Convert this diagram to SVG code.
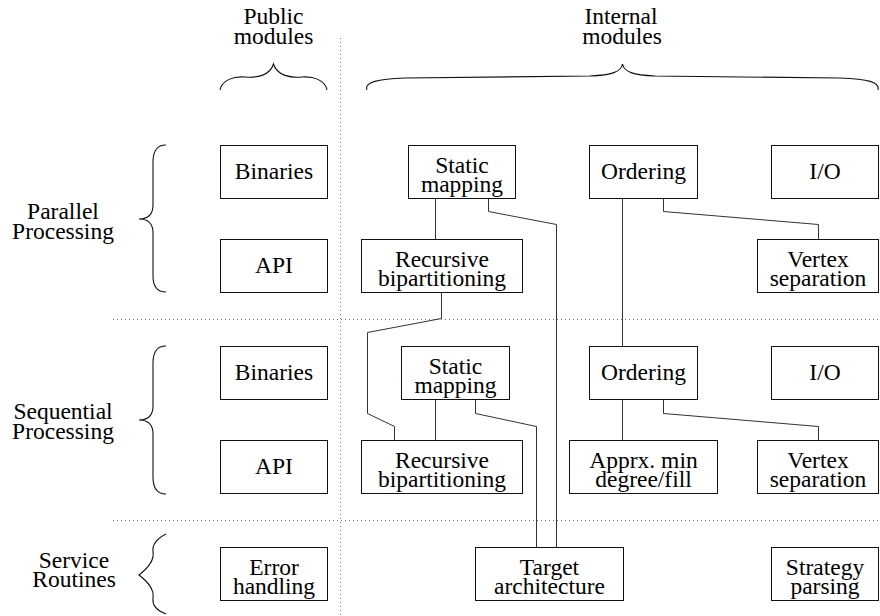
<svg xmlns="http://www.w3.org/2000/svg" width="880" height="616" viewBox="0 0 880 616">
<style>
text{font-family:"Liberation Serif","Times New Roman",serif;font-size:23.5px;fill:#000;text-anchor:middle}
.box{fill:#fff;stroke:#111;stroke-width:1}
.con{fill:none;stroke:#333;stroke-width:1}
.dot{fill:none;stroke:#777;stroke-width:1;stroke-dasharray:1 3}
.brace{fill:none;stroke:#111;stroke-width:1.1}
</style>
<rect width="880" height="616" fill="#fff"/>
<g id="separators">
<line class="dot" x1="340.5" y1="38" x2="340.5" y2="616"/>
<line class="dot" x1="113" y1="319.5" x2="880" y2="319.5"/>
<line class="dot" x1="113" y1="520.5" x2="880" y2="520.5"/>
</g>
<g id="headers">
<text x="273.5" y="24">Public</text>
<text x="273.5" y="43.5">modules</text>
<text x="621" y="24">Internal</text>
<text x="622" y="43.5">modules</text>
<path class="brace" d="M220,90 C222,80 234,76 245,77 C256,78 270,76 273.5,64 C277,76 291,78 302,77 C313,76 325,80 327,90"/>
<path class="brace" d="M367,90 C364,82 378,79 405,78 L590,76 C612,75 621,72 622.5,64 C624,72 633,75 655,76 L840,78 C868,79 880,82 878,90"/>
</g>
<g id="row-labels">
<text x="63" y="219">Parallel</text>
<text x="63" y="239">Processing</text>
<text x="63" y="419">Sequential</text>
<text x="63" y="439">Processing</text>
<text x="74" y="568">Service</text>
<text x="74" y="587">Routines</text>
<path class="brace" d="M166,145 C158,145 153,150 153,162 L153,205 C153,214 148,219 139,219 C148,219 153,224 153,233 L153,276 C153,288 158,292 166,292"/>
<path class="brace" d="M166,346 C158,346 153,351 153,363 L153,406 C153,415 148,420 139,420 C148,420 153,425 153,434 L153,477 C153,489 158,494 166,494"/>
<path class="brace" d="M166,534 C158,538 152,544 153,552 C154,558 152,565 139,575 C152,585 154,592 153,598 C152,606 158,611 166,614"/>
</g>
<g id="connectors">
<polyline class="con" points="435.5,198 435.5,239"/>
<polyline class="con" points="488.5,198 488.5,211.5 556.5,224.5 556.5,547"/>
<polyline class="con" points="622.5,198 622.5,346"/>
<polyline class="con" points="663.5,198 663.5,211.5 818.5,224.5 818.5,239"/>
<polyline class="con" points="441.5,292 441.5,318.5 367.5,332.5 367.5,413.5 394.5,426.5 394.5,440"/>
<polyline class="con" points="435.5,400 435.5,440"/>
<polyline class="con" points="475.5,400 475.5,413.5 536.5,426.5 536.5,547"/>
<polyline class="con" points="622.5,400 622.5,440"/>
<polyline class="con" points="663.5,400 663.5,413.5 818.5,426.5 818.5,440"/>
</g>
<g id="par-binaries"><rect class="box" x="220.5" y="145.5" width="107" height="53"/><text x="274" y="178.5">Binaries</text></g>
<g id="par-api"><rect class="box" x="220.5" y="239.5" width="107" height="53"/><text x="274" y="272.5">API</text></g>
<g id="par-static"><rect class="box" x="408.5" y="145.5" width="107" height="53"/><text x="462" y="173">Static</text><text x="462" y="192">mapping</text></g>
<g id="par-recursive"><rect class="box" x="361.5" y="239.5" width="161" height="53"/><text x="442" y="267">Recursive</text><text x="442" y="286">bipartitioning</text></g>
<g id="par-ordering"><rect class="box" x="589.5" y="145.5" width="108" height="53"/><text x="643.5" y="178.5">Ordering</text></g>
<g id="par-io"><rect class="box" x="771.5" y="145.5" width="107" height="53"/><text x="825" y="178.5">I/O</text></g>
<g id="par-vertex"><rect class="box" x="757.5" y="239.5" width="121" height="53"/><text x="818" y="267">Vertex</text><text x="818" y="286">separation</text></g>
<g id="seq-binaries"><rect class="box" x="220.5" y="346.5" width="107" height="53"/><text x="274" y="379.5">Binaries</text></g>
<g id="seq-api"><rect class="box" x="220.5" y="440.5" width="107" height="53"/><text x="274" y="473.5">API</text></g>
<g id="seq-static"><rect class="box" x="401.5" y="346.5" width="108" height="53"/><text x="455.5" y="374">Static</text><text x="455.5" y="393">mapping</text></g>
<g id="seq-recursive"><rect class="box" x="361.5" y="440.5" width="161" height="53"/><text x="442" y="468">Recursive</text><text x="442" y="487">bipartitioning</text></g>
<g id="seq-ordering"><rect class="box" x="589.5" y="346.5" width="108" height="53"/><text x="643.5" y="379.5">Ordering</text></g>
<g id="seq-io"><rect class="box" x="771.5" y="346.5" width="107" height="53"/><text x="825" y="379.5">I/O</text></g>
<g id="seq-apprx"><rect class="box" x="569.5" y="440.5" width="148" height="53"/><text x="643.5" y="468">Apprx. min</text><text x="643.5" y="487">degree/fill</text></g>
<g id="seq-vertex"><rect class="box" x="757.5" y="440.5" width="121" height="53"/><text x="818" y="468">Vertex</text><text x="818" y="487">separation</text></g>
<g id="srv-error"><rect class="box" x="220.5" y="547.5" width="107" height="53"/><text x="274" y="575">Error</text><text x="274" y="594">handling</text></g>
<g id="srv-target"><rect class="box" x="475.5" y="547.5" width="148" height="53"/><text x="549.5" y="575">Target</text><text x="549.5" y="594">architecture</text></g>
<g id="srv-strategy"><rect class="box" x="771.5" y="547.5" width="107" height="53"/><text x="825" y="575">Strategy</text><text x="825" y="594">parsing</text></g>
</svg>
